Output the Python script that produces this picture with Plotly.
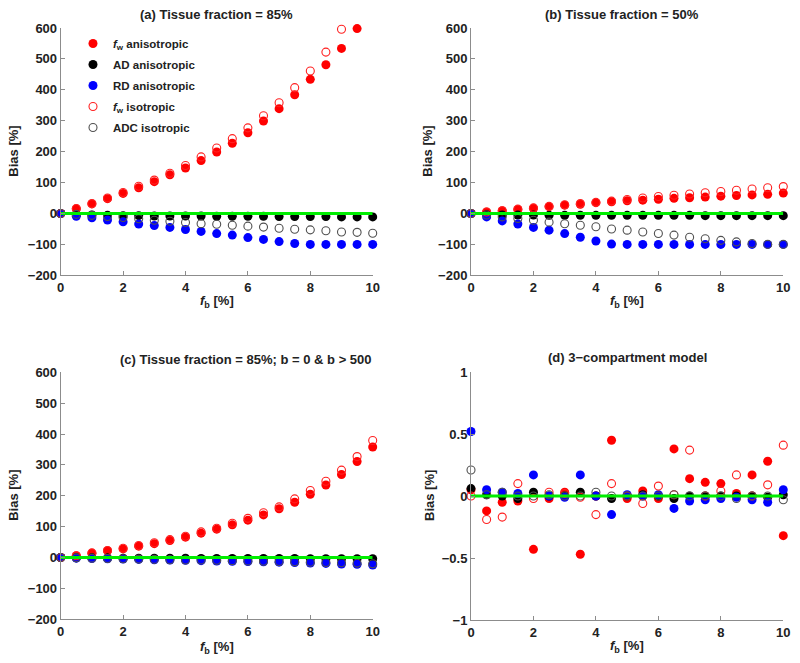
import plotly.graph_objects as go

# ---------------- data ----------------
fb = [0, 0.5, 1, 1.5, 2, 2.5, 3, 3.5, 4, 4.5, 5, 5.5, 6, 6.5, 7, 7.5, 8, 8.5, 9, 9.5, 10]

# (a) Tissue fraction = 85%
a_fw_aniso = [0, 15, 31, 48, 65, 83, 103, 125, 147, 171, 199, 227, 261, 299, 339, 384, 434, 481, 534, 598, 665]
a_ad_aniso = [0, -4, -5, -6, -7, -7, -8, -8, -8, -8, -9, -9, -9, -9, -10, -10, -10, -10, -11, -11, -11]
a_rd_aniso = [0, -9, -14, -21, -27, -34, -39, -45, -52, -58, -65, -70, -78, -84, -91, -97, -100, -100, -100, -100, -100]
a_fw_iso = [0, 16, 32, 50, 68, 88, 108, 130, 155, 183, 212, 242, 277, 316, 358, 407, 461, 522, 596, 680, 775]
a_adc_iso = [0, -3, -6, -10, -13, -17, -22, -25, -29, -33, -35, -38, -41, -44, -48, -51, -53, -56, -60, -61, -64]

# (b) Tissue fraction = 50%
b_fw_aniso = [0, 5, 9, 13, 17, 22, 27, 30, 35, 38, 41, 43, 46, 49, 51, 53, 56, 58, 60, 62, 66]
b_ad_aniso = [0, -4, -5, -5, -5, -6, -6, -6, -6, -6, -6, -6, -6, -6, -6, -7, -7, -7, -7, -7, -7]
b_rd_aniso = [0, -11, -24, -34, -45, -54, -65, -77, -89, -99, -100, -100, -100, -100, -100, -100, -100, -100, -100, -100, -100]
b_fw_iso = [0, 5, 9, 14, 18, 23, 28, 32, 36, 40, 45, 50, 55, 59, 63, 67, 71, 75, 79, 83, 87]
b_adc_iso = [0, -5, -11, -16, -22, -28, -33, -38, -43, -50, -54, -60, -65, -70, -77, -82, -87, -92, -97, -100, -100]

# (c) Tissue fraction = 85%; b = 0 & b > 500
c_fw_aniso = [0, 6, 14, 22, 28, 37, 45, 55, 66, 79, 92, 106, 121, 138, 158, 179, 205, 235, 269, 311, 358]
c_ad_aniso = [0, -1, -1, -1, -2, -2, -2, -2, -2, -3, -3, -3, -3, -3, -3, -3, -4, -4, -4, -4, -4]
c_rd_aniso = [0, -2, -3, -4, -5, -6, -7, -8, -9, -10, -11, -12, -13, -14, -15, -16, -18, -19, -21, -22, -24]
c_fw_iso = [0, 6, 15, 23, 30, 39, 48, 58, 69, 83, 95, 111, 127, 145, 164, 190, 217, 247, 283, 327, 379]
c_adc_iso = [0, -1, -2, -3, -4, -5, -6, -7, -8, -8, -9, -10, -11, -12, -13, -14, -15, -16, -17, -18, -20]

# (d) 3-compartment model
d_fw_aniso = [0.05, -0.12, -0.05, -0.04, -0.43, -0.02, 0.03, -0.47, 0.0, 0.45, -0.02, 0.04, -0.02, 0.38, 0.14, 0.11, 0.10, 0.02, 0.17, 0.28, -0.32]
d_ad_aniso = [0.06, 0.01, 0.0, -0.02, 0.03, 0.0, 0.0, 0.03, 0.0, -0.02, 0.0, 0.01, 0.0, -0.02, 0.0, 0.0, 0.0, 0.0, 0.0, -0.01, 0.01]
d_rd_aniso = [0.52, 0.05, 0.03, 0.02, 0.17, 0.0, -0.01, 0.17, 0.0, -0.15, 0.01, 0.0, 0.01, -0.10, -0.04, -0.03, -0.02, -0.01, -0.03, -0.05, 0.05]
d_fw_iso = [0.0, -0.19, -0.17, 0.10, -0.02, 0.03, 0.02, -0.01, -0.15, 0.10, 0.0, -0.06, 0.08, 0.01, 0.37, 0.0, 0.04, 0.17, 0.0, 0.09, 0.41]
d_adc_iso = [0.21, 0.01, 0.03, 0.0, 0.0, 0.01, 0.0, 0.0, 0.03, 0.0, 0.0, 0.0, 0.0, 0.01, 0.0, 0.0, 0.0, -0.02, 0.0, 0.0, -0.03]

series_names = ["<i>f</i><sub>w</sub> anisotropic", "AD anisotropic", "RD anisotropic",
                "<i>f</i><sub>w</sub> isotropic", "ADC isotropic"]
panel_titles = ["(a) Tissue fraction = 85%", "(b) Tissue fraction = 50%",
                "(c) Tissue fraction = 85%; b = 0 &amp; b &gt; 500", "(d) 3\u2212compartment model"]
ref_x = [0, 10]
ref_y = [0, 0]

# ---------------- styling ----------------
FONT = "Liberation Sans, Arial, sans-serif"
W, H = 800, 663

def px_x(p):
    return p / W

def px_y(p):
    return 1 - p / H

styles = [
    dict(symbol="circle", size=9, color="#ff0000", line=dict(width=0)),
    dict(symbol="circle", size=9, color="#000000", line=dict(width=0)),
    dict(symbol="circle", size=9, color="#0000ff", line=dict(width=0)),
    dict(symbol="circle-open", size=8, color="#ff2020", line=dict(width=1.1, color="#ff2020")),
    dict(symbol="circle-open", size=8, color="#505050", line=dict(width=1.1, color="#505050")),
]

panels = [
    dict(data=[a_fw_aniso, a_ad_aniso, a_rd_aniso, a_fw_iso, a_adc_iso], yr=[-200, 600],
         xd=(60.7, 372.7), yd=(28, 275.3), title_pos=(216, 14), ylab_x=14, xlab_y=302),
    dict(data=[b_fw_aniso, b_ad_aniso, b_rd_aniso, b_fw_iso, b_adc_iso], yr=[-200, 600],
         xd=(471, 783.3), yd=(28, 275.3), title_pos=(622, 14), ylab_x=428, xlab_y=302),
    dict(data=[c_fw_aniso, c_ad_aniso, c_rd_aniso, c_fw_iso, c_adc_iso], yr=[-200, 600],
         xd=(60.7, 372.7), yd=(372.3, 619.3), title_pos=(246, 359), ylab_x=14, xlab_y=647),
    dict(data=[d_fw_aniso, d_ad_aniso, d_rd_aniso, d_fw_iso, d_adc_iso], yr=[-1, 1],
         xd=(471, 783.3), yd=(372, 620), title_pos=(627, 357), ylab_x=429, xlab_y=646),
]

fig = go.Figure()
annotations = []
layout_axes = {}

for i, p in enumerate(panels):
    k = "" if i == 0 else str(i + 1)
    xa, ya = "x" + k, "y" + k
    lo, hi = p["yr"]
    for j, vals in enumerate(p["data"]):
        # points beyond the axis limits are not shown (as in the original)
        yv = [v if lo <= v <= hi else None for v in vals]
        fig.add_trace(go.Scatter(
            x=fb, y=yv, mode="markers", name=series_names[j], marker=styles[j],
            xaxis=xa, yaxis=ya, cliponaxis=False, showlegend=(i == 0),
            legendgroup="g%d" % j,
        ))
    fig.add_trace(go.Scatter(x=ref_x, y=ref_y, mode="lines", line=dict(color="#00ee00", width=3),
                             xaxis=xa, yaxis=ya, showlegend=False, cliponaxis=False))

    axis_common = dict(showline=True, linecolor="#8c8c8c", linewidth=1, ticks="inside", ticklen=4,
                       tickcolor="#8c8c8c", showgrid=False, zeroline=False, automargin=False,
                       tickfont=dict(family=FONT, size=13, color="#222222", weight="bold"))
    layout_axes["xaxis" + k] = dict(axis_common, domain=[px_x(p["xd"][0]), px_x(p["xd"][1])],
                                    range=[0, 10], tickvals=[0, 2, 4, 6, 8, 10], anchor=ya)
    if hi == 600:
        yt = dict(tickvals=[-200, -100, 0, 100, 200, 300, 400, 500, 600])
    else:
        yt = dict(tickvals=[-1, -0.5, 0, 0.5, 1])
    layout_axes["yaxis" + k] = dict(axis_common, domain=[px_y(p["yd"][1]), px_y(p["yd"][0])],
                                    range=[lo, hi], anchor=xa, **yt)

    tfont = dict(family=FONT, size=13, color="#222222", weight="bold")
    annotations.append(dict(text=panel_titles[i], x=px_x(p["title_pos"][0]), y=px_y(p["title_pos"][1]),
                            xref="paper", yref="paper", showarrow=False, font=tfont,
                            xanchor="center", yanchor="middle"))
    annotations.append(dict(text="Bias [%]", x=px_x(p["ylab_x"]),
                            y=px_y((p["yd"][0] + p["yd"][1]) / 2), textangle=-90,
                            xref="paper", yref="paper", showarrow=False, font=tfont,
                            xanchor="center", yanchor="middle"))
    annotations.append(dict(text="<i>f</i><sub>b</sub> [%]", x=px_x((p["xd"][0] + p["xd"][1]) / 2),
                            y=px_y(p["xlab_y"]), xref="paper", yref="paper", showarrow=False,
                            font=tfont, xanchor="center", yanchor="middle"))

fig.update_layout(
    template="none",
    width=W, height=H, margin=dict(l=0, r=0, t=0, b=0, pad=0, autoexpand=False),
    paper_bgcolor="white", plot_bgcolor="white",
    font=dict(family=FONT),
    annotations=annotations,
    legend=dict(x=px_x(73), y=px_y(29), xanchor="left", yanchor="top",
                bgcolor="rgba(0,0,0,0)", borderwidth=0, tracegroupgap=2,
                font=dict(family=FONT, size=11.5, color="#222222", weight="bold")),
    **layout_axes,
)

fig.write_html("out.html", config={"displayModeBar": False},
               post_script="document.body.style.margin='0';")
